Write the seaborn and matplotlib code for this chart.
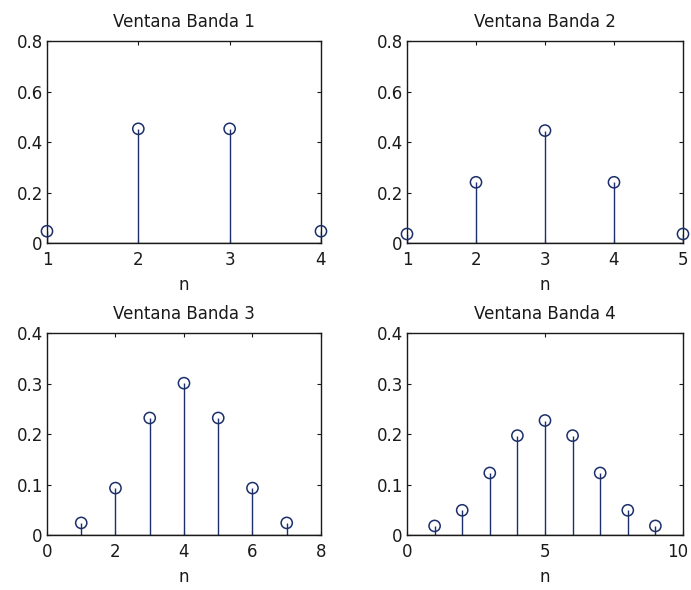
import numpy as np
import pandas as pd
import matplotlib
matplotlib.use("Agg")
import matplotlib.pyplot as plt
import matplotlib.transforms as mtransforms
import seaborn as sns

# -------------------------------
# 1. DATA (window coefficients)
# -------------------------------
titles = ["Ventana Banda 1", "Ventana Banda 2", "Ventana Banda 3", "Ventana Banda 4"]

n1 = [1, 2, 3, 4]
w1 = [0.047, 0.453, 0.453, 0.047]

n2 = [1, 2, 3, 4, 5]
w2 = [0.036, 0.241, 0.446, 0.241, 0.036]

n3 = [1, 2, 3, 4, 5, 6, 7]
w3 = [0.024, 0.093, 0.232, 0.301, 0.232, 0.093, 0.024]

n4 = [1, 2, 3, 4, 5, 6, 7, 8, 9]
w4 = [0.018, 0.049, 0.123, 0.197, 0.227, 0.197, 0.123, 0.049, 0.018]

xlims = [(1, 4), (1, 5), (0, 8), (0, 10)]
ylims = [(0, 0.8), (0, 0.8), (0, 0.4), (0, 0.4)]
xticks = [[1, 2, 3, 4], [1, 2, 3, 4, 5], [0, 2, 4, 6, 8], [0, 5, 10]]
yticks = [[0, 0.2, 0.4, 0.6, 0.8], [0, 0.2, 0.4, 0.6, 0.8],
          [0, 0.1, 0.2, 0.3, 0.4], [0, 0.1, 0.2, 0.3, 0.4]]

series = [(n1, w1), (n2, w2), (n3, w3), (n4, w4)]

# -------------------------------
# 2. STYLE
# -------------------------------
sns.set_style("ticks")
plt.rcParams['font.family'] = ['DejaVu Sans']
plt.rcParams['font.size'] = 12

stem_color = "#1c2f6b"
ink = "#1a1a1a"

fig = plt.figure(figsize=(6.91, 5.90), dpi=100)
positions = [
    [0.068, 0.588, 0.3965, 0.342],
    [0.589, 0.588, 0.3994, 0.342],
    [0.068, 0.0932, 0.3965, 0.342],
    [0.589, 0.0932, 0.3994, 0.342],
]

# -------------------------------
# 3. STEM PLOTS
# -------------------------------
axes = []
for i, (n, w) in enumerate(series):
    ax = fig.add_axes(positions[i])
    axes.append(ax)
    df = pd.DataFrame({"n": n, "w": w})
    ax.vlines(df["n"], 0, df["w"], color=stem_color, linewidth=1.0, zorder=2)
    sns.scatterplot(data=df, x="n", y="w", ax=ax, marker="o", s=65,
                    facecolors="none", edgecolor=stem_color, linewidth=1.1,
                    zorder=3, clip_on=False)
    ax.axhline(0, color=ink, linewidth=1.0, zorder=2)

    ax.set_xlim(*xlims[i])
    ax.set_ylim(*ylims[i])
    ax.set_xticks(xticks[i])
    ax.set_yticks(yticks[i])
    ax.set_yticklabels(["0" if t == 0 else f"{t:g}" for t in yticks[i]])
    ax.tick_params(direction="in", top=True, right=True, length=3,
                   width=0.8, labelsize=12, colors=ink)
    ax.tick_params(axis="y", pad=3)
    ax.tick_params(axis="x", pad=6)
    for s in ax.spines.values():
        s.set_visible(True)
        s.set_color(ink)
        s.set_linewidth(1.0)
    ax.set_xlabel("n", fontsize=12, labelpad=5, color=ink)
    ax.set_ylabel("")
    ax.set_title(titles[i], fontsize=12, pad=10, color=ink)

# keep the "10" label inside the figure like the original
last = axes[3].get_xticklabels()[-1]
last.set_transform(last.get_transform() +
                   mtransforms.ScaledTranslation(-4 / 72, 0, fig.dpi_scale_trans))

plt.savefig("out.png", dpi=100)
